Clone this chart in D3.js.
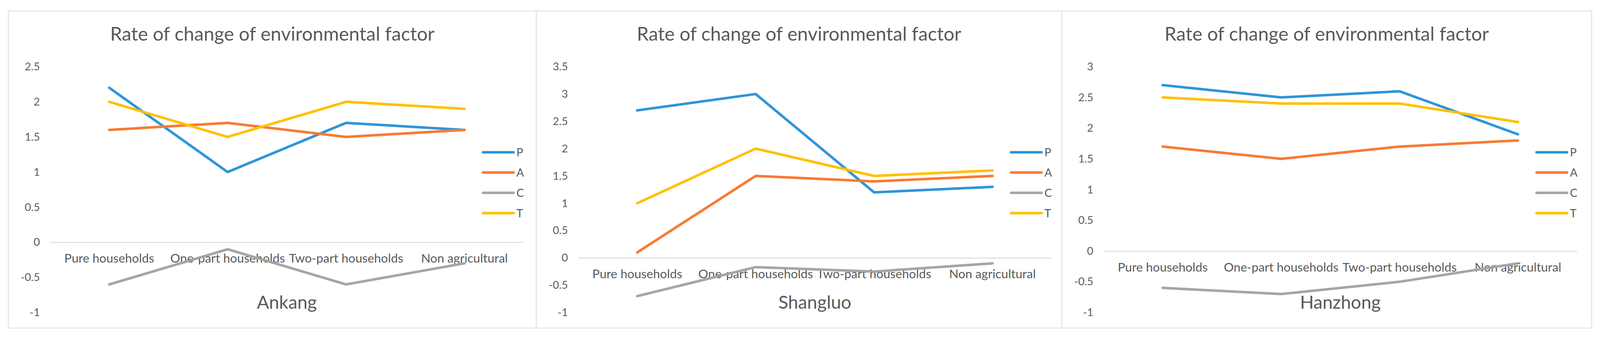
<!DOCTYPE html>
<html>
<head>
<meta charset="UTF-8">
<title>Rate of change of environmental factor</title>
<style>
  html, body { margin: 0; padding: 0; background: #fff; overflow: hidden; }
  svg { display: block; width: 100vw; height: 100vh; }
  text { font-family: Lato, "Open Sans", sans-serif; fill: #595959; }
</style>
</head>
<body>
<div id="chart"></div>
<script src="https://cdn.jsdelivr.net/npm/d3@7"></script>
<script>
// categories on the x axis (same for every panel)
const categories = ["Pure households", "One-part households", "Two-part households", "Non agricultural"];
const seriesNames = ["P", "A", "C", "T"];
const seriesColors = ["#2E95D8", "#F97A33", "#A5A5A5", "#FFC000"];
const regions = ["Ankang", "Shangluo", "Hanzhong"];

// Ankang
const ankangP = [2.2, 1.0, 1.7, 1.6];
const ankangA = [1.6, 1.7, 1.5, 1.6];
const ankangC = [-0.6, -0.1, -0.6, -0.3];
const ankangT = [2.0, 1.5, 2.0, 1.9];
const ankangTicks = [-1, -0.5, 0, 0.5, 1, 1.5, 2, 2.5];

// Shangluo
const shangluoP = [2.7, 3.0, 1.2, 1.3];
const shangluoA = [0.1, 1.5, 1.4, 1.5];
const shangluoC = [-0.7, -0.17, -0.25, -0.1];
const shangluoT = [1.0, 2.0, 1.5, 1.6];
const shangluoTicks = [-1, -0.5, 0, 0.5, 1, 1.5, 2, 2.5, 3, 3.5];

// Hanzhong
const hanzhongP = [2.7, 2.5, 2.6, 1.9];
const hanzhongA = [1.7, 1.5, 1.7, 1.8];
const hanzhongC = [-0.6, -0.7, -0.5, -0.2];
const hanzhongT = [2.5, 2.4, 2.4, 2.1];
const hanzhongTicks = [-1, -0.5, 0, 0.5, 1, 1.5, 2, 2.5, 3];

const panelData = [
  { series: [ankangP, ankangA, ankangC, ankangT], ticks: ankangTicks },
  { series: [shangluoP, shangluoA, shangluoC, shangluoT], ticks: shangluoTicks },
  { series: [hanzhongP, hanzhongA, hanzhongC, hanzhongT], ticks: hanzhongTicks }
];

const W = 4415, H = 929;
const svg = d3.select("#chart").append("svg")
  .attr("viewBox", `0 0 ${W} ${H}`)
  .attr("preserveAspectRatio", "xMinYMin meet");

// panel frames and the common vertical layout
const panelLeft = [23, 1480, 2930];
const panelRight = [1480, 2930, 4392];
const panelTop = 30, panelBottom = 905;
const plotTop = 184, plotBottom = 862;

// shrink / grow a text so it is as wide as in the source picture
function fitWidth(sel, target) {
  sel.each(function () {
    const w = this.getComputedTextLength();
    const fs = parseFloat(d3.select(this).attr("font-size"));
    if (w > 0) d3.select(this).attr("font-size", fs * target / w);
  });
}

panelData.forEach((pd, i) => {
  const x0 = panelLeft[i], x1 = panelRight[i];
  const g = svg.append("g");

  g.append("rect")
    .attr("x", x0).attr("y", panelTop)
    .attr("width", x1 - x0).attr("height", panelBottom - panelTop)
    .attr("fill", "#fff")
    .attr("stroke", "#E6E6E6").attr("stroke-width", 3);

  const x = d3.scaleBand()
    .domain(categories)
    .range([x0 + 115, x0 + 1422]);

  const y = d3.scaleLinear()
    .domain(d3.extent(pd.ticks))
    .range([plotBottom, plotTop]);

  // title
  g.append("text")
    .attr("x", (x0 + x1) / 2).attr("y", 112)
    .attr("text-anchor", "middle")
    .attr("font-size", 46)
    .text("Rate of change of environmental factor")
    .call(fitWidth, 895);

  // y tick labels (no axis line)
  const yAxis = d3.axisLeft(y).tickValues(pd.ticks).tickSize(0).tickPadding(0)
    .tickFormat(d => String(d));
  const ya = g.append("g")
    .attr("transform", `translate(${x0 + 87},0)`)
    .call(yAxis);
  ya.select(".domain").remove();
  ya.selectAll("text")
    .attr("font-size", 30)
    .attr("font-family", "Lato, 'Open Sans', sans-serif")
    .attr("fill", "#595959");

  // category axis at zero
  const xAxis = d3.axisBottom(x).tickSize(0).tickPadding(32);
  const xa = g.append("g")
    .attr("transform", `translate(0,${y(0)})`)
    .call(xAxis);
  xa.select(".domain").attr("stroke", "#D9D9D9").attr("stroke-width", 2.5);
  xa.selectAll("text")
    .attr("font-size", 31)
    .attr("font-family", "Lato, 'Open Sans', sans-serif")
    .attr("fill", "#595959");
  xa.selectAll(".tick text").filter(d => d === "Pure households").call(fitWidth, 248);
  const catSize = xa.selectAll(".tick text").filter(d => d === "Pure households").attr("font-size");
  xa.selectAll(".tick text").attr("font-size", catSize);

  // lines
  const line = d3.line()
    .x((d, j) => x(categories[j]) + x.bandwidth() / 2)
    .y(d => y(d));

  pd.series.forEach((s, k) => {
    g.append("path")
      .datum(s)
      .attr("d", line)
      .attr("fill", "none")
      .attr("stroke", seriesColors[k])
      .attr("stroke-width", 7)
      .attr("stroke-linejoin", "round")
      .attr("stroke-linecap", "round");
  });

  // region name below the plot
  g.append("text")
    .attr("x", (x.range()[0] + x.range()[1]) / 2).attr("y", 852)
    .attr("text-anchor", "middle")
    .attr("font-size", 50)
    .text(regions[i]);

  // legend
  const leg = g.append("g").attr("transform", `translate(${x0 + 1310},0)`);
  seriesNames.forEach((name, k) => {
    const ly = 420 + k * 56;
    leg.append("line")
      .attr("x1", 0).attr("x2", 84)
      .attr("y1", ly).attr("y2", ly)
      .attr("stroke", seriesColors[k])
      .attr("stroke-width", 7)
      .attr("stroke-linecap", "round");
    leg.append("text")
      .attr("x", 92).attr("y", ly + 11)
      .attr("font-size", 31)
      .text(name);
  });
});
</script>
</body>
</html>
